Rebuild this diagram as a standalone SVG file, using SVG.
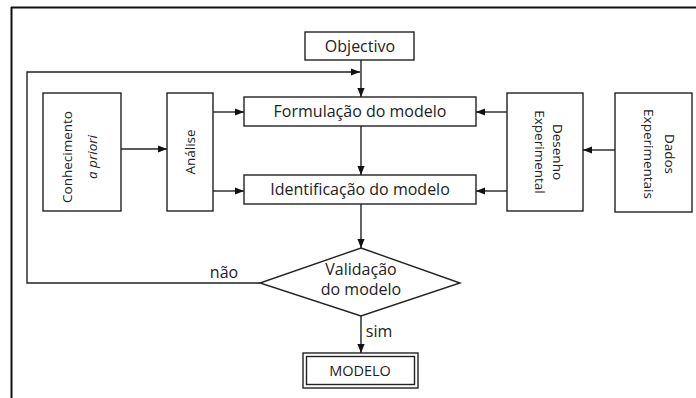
<svg xmlns="http://www.w3.org/2000/svg" width="696" height="398" viewBox="0 0 696 398">
<defs>
<style>
.box{fill:#fff;stroke:#222;stroke-width:1.4}
.ln{fill:none;stroke:#222;stroke-width:1.4}
.t{font-family:"Open Sans","DejaVu Sans",sans-serif;font-size:16px;fill:#222;text-anchor:middle}
.v{font-size:13.5px}
.i{font-style:italic}
</style>
<marker id="ah" viewBox="0 0 10 10" refX="10" refY="5" markerWidth="9" markerHeight="9" markerUnits="userSpaceOnUse" orient="auto">
<path d="M0,1 L10,5 L0,9 Z" fill="#111"/>
</marker>
</defs>
<rect width="696" height="398" fill="#fff"/>
<g id="frame">
<line x1="11" y1="7.5" x2="696" y2="7.5" stroke="#111" stroke-width="2"/>
<line x1="11.5" y1="7" x2="11.5" y2="398" stroke="#111" stroke-width="2"/>
</g>
<g id="connectors">
<line class="ln" x1="361" y1="60" x2="361" y2="97" marker-end="url(#ah)"/>
<polyline class="ln" points="260,283 27,283 27,72 360,72" marker-end="url(#ah)"/>
<line class="ln" x1="121" y1="149" x2="167" y2="149" marker-end="url(#ah)"/>
<line class="ln" x1="213" y1="112" x2="244" y2="112" marker-end="url(#ah)"/>
<line class="ln" x1="213" y1="191" x2="244" y2="191" marker-end="url(#ah)"/>
<line class="ln" x1="507" y1="112" x2="476" y2="112" marker-end="url(#ah)"/>
<line class="ln" x1="507" y1="191" x2="476" y2="191" marker-end="url(#ah)"/>
<line class="ln" x1="615" y1="150" x2="583" y2="150" marker-end="url(#ah)"/>
<line class="ln" x1="361" y1="126" x2="361" y2="175" marker-end="url(#ah)"/>
<line class="ln" x1="361" y1="204" x2="361" y2="248" marker-end="url(#ah)"/>
<line class="ln" x1="361" y1="316" x2="361" y2="353" marker-end="url(#ah)"/>
<text class="t" x="224" y="278">não</text>
<text class="t" x="379" y="337">sim</text>
</g>
<g id="objectivo">
<rect class="box" x="305" y="32" width="109" height="28"/>
<text class="t" x="360" y="52">Objectivo</text>
</g>
<g id="formulacao">
<rect class="box" x="244" y="97" width="232" height="29"/>
<text class="t" x="360" y="117">Formulação do modelo</text>
</g>
<g id="identificacao">
<rect class="box" x="244" y="175" width="232" height="29"/>
<text class="t" x="360" y="195">Identificação do modelo</text>
</g>
<g id="conhecimento">
<rect class="box" x="43" y="93" width="78" height="118"/>
<text class="t v" transform="translate(72,157) rotate(-90)">Conhecimento</text>
<text class="t v i" transform="translate(97,157) rotate(-90)">a priori</text>
</g>
<g id="analise">
<rect class="box" x="167" y="93" width="46" height="118"/>
<text class="t v" transform="translate(195,152) rotate(-90)">Análise</text>
</g>
<g id="desenho">
<rect class="box" x="507" y="93" width="76" height="118"/>
<text class="t v" transform="translate(553,152) rotate(90)">Desenho</text>
<text class="t v" transform="translate(535,152) rotate(90)">Experimental</text>
</g>
<g id="dados">
<rect class="box" x="615" y="93" width="77" height="119"/>
<text class="t v" transform="translate(665,154) rotate(90)">Dados</text>
<text class="t v" transform="translate(644,154) rotate(90)">Experimentais</text>
</g>
<g id="validacao">
<polygon class="box" points="361,248 460,283 361,316 260,283"/>
<text class="t" x="361" y="275">Validação</text>
<text class="t" x="361" y="295">do modelo</text>
</g>
<g id="modelo">
<rect class="box" x="303" y="353" width="115" height="35"/>
<rect class="box" x="306.5" y="356.5" width="108" height="28"/>
<text class="t" x="360" y="376" style="font-size:14.5px">MODELO</text>
</g>
</svg>
